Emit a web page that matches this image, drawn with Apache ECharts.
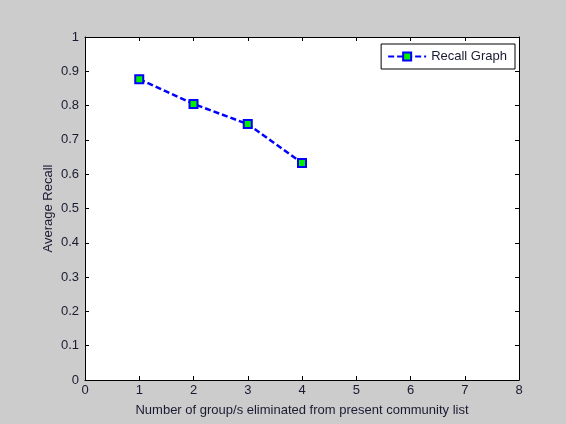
<!DOCTYPE html>
<html>
<head>
<meta charset="utf-8">
<script src="https://cdn.jsdelivr.net/npm/echarts@6/dist/echarts.min.js"></script>
<style>
  html, body { margin: 0; padding: 0; background: #cccccc; }
  #main { width: 566px; height: 424px; }
</style>
</head>
<body>
<div id="main"></div>
<script>
var groupsRemoved = [1, 2, 3, 4]; // x values
var avgRecall = [0.877, 0.805, 0.746, 0.633]; // 平均召回
var xTicks = [0, 1, 2, 3, 4, 5, 6, 7, 8];
var yTicks = [0, 0.1, 0.2, 0.3, 0.4, 0.5, 0.6, 0.7, 0.8, 0.9, 1];

var seriesData = [];
for (var i = 0; i < groupsRemoved.length; i++) {
  seriesData.push([groupsRemoved[i], avgRecall[i]]);
}

var myChart = echarts.init(document.getElementById("main"));
var txt = "#1a1a33";
var font = "Arial, 'Liberation Sans', sans-serif";

function axisLineStyle() {
  return { show: true, onZero: false, lineStyle: { color: "#000", width: 1 } };
}
function tickStyle() {
  return { show: true, inside: true, length: 4, lineStyle: { color: "#000" } };
}

option = {
  backgroundColor: "#cccccc",
  animation: false,
  grid: {
    left: 85,
    right: 47,
    top: 37,
    bottom: 44,
    show: true,
    backgroundColor: "#ffffff",
    borderColor: "#000000",
    borderWidth: 0
  },
  legend: {
    data: ["Recall Graph"],
    right: 51,
    top: 44,
    backgroundColor: "#ffffff",
    borderColor: "#000000",
    borderWidth: 1,
    padding: [6, 8, 6, 6],
    itemWidth: 38,
    itemHeight: 10,
    itemGap: 6,
    textStyle: { color: txt, fontSize: 13, fontFamily: font }
  },
  xAxis: [{
    type: "value",
    min: xTicks[0],
    max: xTicks[xTicks.length - 1],
    interval: 1,
    name: "Number of group/s eliminated from present community list",
    nameLocation: "middle",
    nameGap: 24,
    nameTextStyle: { color: txt, fontSize: 13, fontFamily: font },
    axisLine: axisLineStyle(),
    axisTick: tickStyle(),
    axisLabel: { color: txt, fontSize: 13, fontFamily: font, margin: 4 },
    splitLine: { show: false }
  }, {
    type: "value",
    position: "top",
    min: xTicks[0],
    max: xTicks[xTicks.length - 1],
    interval: 1,
    axisLine: axisLineStyle(),
    axisTick: tickStyle(),
    axisLabel: { show: false },
    splitLine: { show: false }
  }],
  yAxis: [{
    type: "value",
    min: yTicks[0],
    max: yTicks[yTicks.length - 1],
    interval: 0.1,
    name: "Average Recall",
    nameLocation: "middle",
    nameGap: 30,
    nameMoveOverlap: false,
    nameTextStyle: { color: txt, fontSize: 13, fontFamily: font },
    axisLine: axisLineStyle(),
    axisTick: tickStyle(),
    axisLabel: {
      color: txt, fontSize: 13, fontFamily: font, margin: 6,
      formatter: function (v) { return String(Math.round(v * 10) / 10); }
    },
    splitLine: { show: false }
  }, {
    type: "value",
    position: "right",
    min: yTicks[0],
    max: yTicks[yTicks.length - 1],
    interval: 0.1,
    axisLine: axisLineStyle(),
    axisTick: tickStyle(),
    axisLabel: { show: false },
    splitLine: { show: false }
  }],
  series: [{
    name: "Recall Graph",
    type: "line",
    data: seriesData,
    symbol: "rect",
    symbolSize: 8,
    lineStyle: { color: "#0000ff", width: 2.5, type: [6, 3] },
    itemStyle: { color: "#00ee00", borderColor: "#0000ff", borderWidth: 2 }
  }]
};
myChart.setOption(option);
</script>
</body>
</html>
